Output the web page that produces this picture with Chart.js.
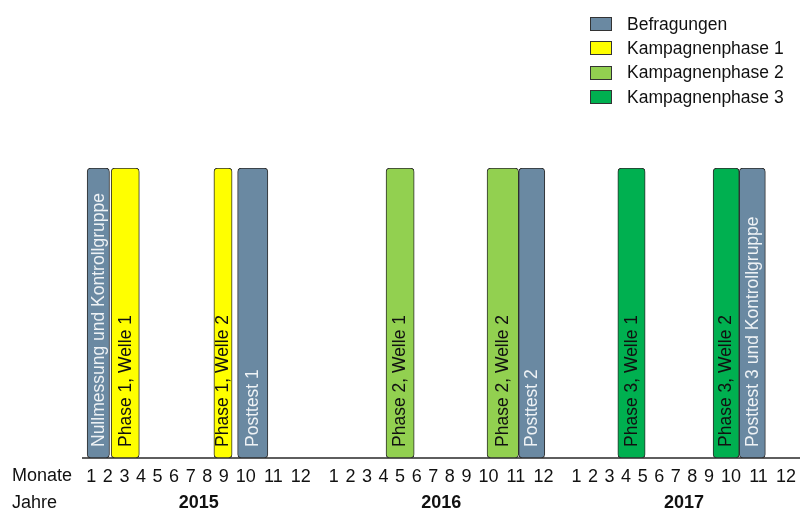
<!DOCTYPE html>
<html lang="de">
<head>
<meta charset="utf-8">
<title>Zeitplan Befragungen und Kampagnenphasen</title>
<script src="https://cdn.jsdelivr.net/npm/chart.js@4"></script>
<style>
  body { margin: 0; background: #fff; }
  #wrap { position: relative; width: 804px; height: 511px; overflow: hidden; }
  #legend {
    position: absolute; left: 590px; top: 12px;
    font: 17.5px "Liberation Sans", Arial, sans-serif; color: #111;
  }
  #legend .item { display: flex; align-items: center; height: 24.3px; }
  #legend .box {
    width: 20px; height: 12px; margin-right: 15px;
    border: 1px solid #333;
  }
</style>
</head>
<body>
<div id="wrap">
  <canvas id="timeline" width="804" height="511"></canvas>
  <div id="legend"></div>
</div>
<script>
const groups = ['Befragungen', 'Kampagnenphase 1', 'Kampagnenphase 2', 'Kampagnenphase 3'];
const years = ['2015', '2016', '2017'];
const monthLabels = ['1', '2', '3', '4', '5', '6', '7', '8', '9', '10', '11', '12'];

const events = [
    'Nullmessung und Kontrollgruppe',
    'Phase 1, Welle 1',
    'Phase 1, Welle 2',
    'Posttest 1',
    'Phase 2, Welle 1',
    'Phase 2, Welle 2',
    'Posttest 2',
    'Phase 3, Welle 1',
    'Phase 3, Welle 2',
    'Posttest 3 und Kontrollgruppe'
];
const eventGroup = [0, 1, 1, 0, 2, 2, 0, 3, 3, 0];
// months counted from the start of January 2015
const eventStart = [0.25, 1.7, 7.9, 9.2, 15.65, 21.45, 22.6, 27.0, 32.75, 33.8];
const eventEnd = [1.6, 3.4, 9.0, 10.3, 17.35, 22.6, 23.55, 28.65, 33.8, 34.75];

const groupColors = ['#6a89a2', '#ffff00', '#92d050', '#00b050'];
const textColors = ['#eef2f5', '#111', '#111', '#111'];

// month axis: each month gets room according to its label width, plus a gap between years
class MonthScale extends Chart.LinearScale {
    static id = 'months';
    static defaults = {};

    buildTicks() {
        const ticks = [];
        for (let i = 0; i < years.length * 12; i++) ticks.push({ value: i + 0.5 });
        return ticks;
    }

    configure() {
        super.configure();
        this._edges = [];
        this._widths = [];
        let pos = 0;
        for (let i = 0; i < years.length * 12; i++) {
            if (i > 0 && i % 12 === 0) pos += 0.66;
            const w = monthLabels[i % 12].length > 1 ? 1.66 : 1;
            this._edges.push(pos);
            this._widths.push(w);
            pos += w;
        }
        this._total = pos;
    }

    getPixelForValue(value) {
        if (value === null || isNaN(value)) return NaN;
        const n = this._widths.length;
        const v = Math.min(Math.max(value, 0), n);
        const i = Math.min(Math.floor(v), n - 1);
        const u = this._edges[i] + (v - i) * this._widths[i];
        return this.left + u / this._total * this.width;
    }

    getValueForPixel(pixel) {
        const u = (pixel - this.left) / this.width * this._total;
        for (let i = this._widths.length - 1; i >= 0; i--) {
            if (u >= this._edges[i]) return i + Math.min((u - this._edges[i]) / this._widths[i], 1);
        }
        return 0;
    }
}
Chart.register(MonthScale);

// rotated captions inside the bars
const barLabels = {
    id: 'barLabels',
    afterDatasetsDraw(chart) {
        const ctx = chart.ctx;
        ctx.save();
        ctx.font = '17.5px "Liberation Sans", Arial, sans-serif';
        ctx.textAlign = 'left';
        ctx.textBaseline = 'middle';
        chart.data.datasets.forEach((ds, i) => {
            const bar = chart.getDatasetMeta(i).data[0];
            const { x, y, base, height } = bar.getProps(['x', 'y', 'base', 'height'], true);
            ctx.save();
            ctx.translate((x + base) / 2 + 0.5, y + height / 2 - 11);
            ctx.rotate(-Math.PI / 2);
            ctx.fillStyle = textColors[eventGroup[i]];
            ctx.fillText(events[i], 0, 0);
            ctx.restore();
        });
        ctx.restore();
    }
};

// row titles and the year line under the months
const axisRows = {
    id: 'axisRows',
    afterDraw(chart) {
        const ctx = chart.ctx;
        const xs = chart.scales.x;
        const monthY = xs.top + 18;
        const yearY = xs.top + 45;
        ctx.save();
        ctx.fillStyle = '#111';
        ctx.textBaseline = 'middle';
        ctx.textAlign = 'left';
        ctx.font = '18px "Liberation Sans", Arial, sans-serif';
        ctx.fillText('Monate', 12, monthY);
        ctx.fillText('Jahre', 12, yearY);
        ctx.textAlign = 'center';
        ctx.font = 'bold 18px "Liberation Sans", Arial, sans-serif';
        years.forEach((yr, k) => {
            const a = xs.getPixelForValue(k * 12);
            const b = xs.getPixelForValue(k * 12 + 11.999);
            ctx.fillText(yr, (a + b) / 2, yearY);
        });
        ctx.restore();
    }
};

const datasets = events.map((name, i) => ({
    label: name,
    data: [[eventStart[i], eventEnd[i]]],
    backgroundColor: groupColors[eventGroup[i]],
    borderColor: '#2e2e2e',
    borderWidth: 1,
    borderRadius: 4,
    borderSkipped: false,
    barPercentage: 1,
    categoryPercentage: 1,
    grouped: false
}));

const chart = new Chart(document.getElementById('timeline'), {
    type: 'bar',
    data: { labels: [''], datasets: datasets },
    plugins: [barLabels, axisRows],
    options: {
        indexAxis: 'y',
        responsive: false,
        animation: false,
        events: [],
        layout: { padding: { top: 168, left: 83, right: -3, bottom: 0 } },
        plugins: {
            legend: { display: false },
            tooltip: { enabled: false }
        },
        scales: {
            x: {
                type: 'months',
                min: 0,
                max: years.length * 12,
                grid: { display: false, drawTicks: false },
                border: { display: true, color: '#5e5e5e', width: 2 },
                ticks: {
                    autoSkip: false,
                    maxRotation: 0,
                    padding: 8,
                    color: '#111',
                    font: { family: '"Liberation Sans", Arial, sans-serif', size: 18 },
                    callback: (value, index) => monthLabels[index % 12]
                },
                afterFit: s => { s.height = 53; }
            },
            y: { display: false }
        }
    }
});

// legend, one entry per group
const legend = document.getElementById('legend');
groups.forEach((g, i) => {
    const item = document.createElement('div');
    item.className = 'item';
    const box = document.createElement('span');
    box.className = 'box';
    box.style.background = groupColors[i];
    const txt = document.createElement('span');
    txt.textContent = g;
    item.appendChild(box);
    item.appendChild(txt);
    legend.appendChild(item);
});
</script>
</body>
</html>
